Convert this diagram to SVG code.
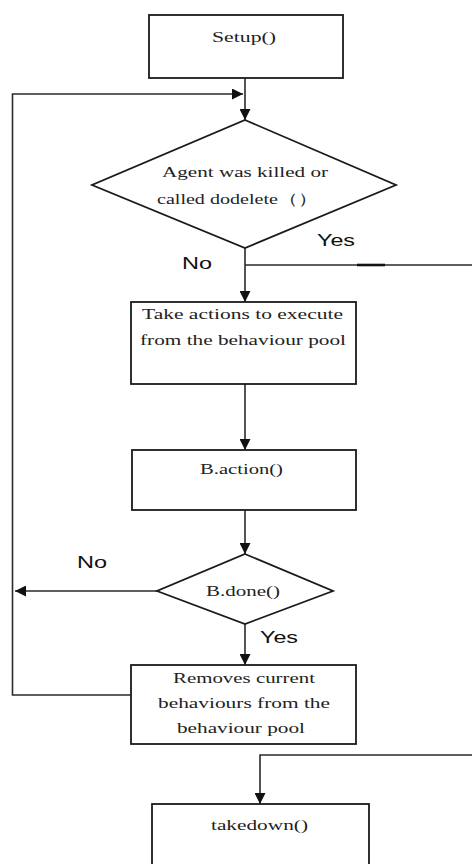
<svg xmlns="http://www.w3.org/2000/svg" width="472" height="864" viewBox="0 0 472 864">
<style>
.box{fill:#fff;stroke:#1a1a1a;stroke-width:1.8}
.ln{fill:none;stroke:#2a2a2a;stroke-width:1.6}
.t{font-family:"Liberation Serif",serif;font-size:15px;fill:#222}
.l{font-family:"Liberation Sans",sans-serif;font-size:17px;fill:#111}
</style>
<defs>
<marker id="ah2" viewBox="0 0 10 10" refX="10" refY="5" markerWidth="11" markerHeight="11" markerUnits="userSpaceOnUse" orient="auto">
<path d="M0,0 L10,5 L0,10 z" fill="#111"/>
</marker>
</defs>
<g id="connectors">
<path class="ln" d="M245,78 V120" marker-end="url(#ah2)"/>
<path class="ln" d="M131,695 H12.5 V94 H243" marker-end="url(#ah2)"/>
<path class="ln" d="M245,248 V302" marker-end="url(#ah2)"/>
<path class="ln" d="M245,265 H472"/>
<path d="M357,265 H385" stroke="#111" stroke-width="2.6"/>
<path class="ln" d="M245,384 V450" marker-end="url(#ah2)"/>
<path class="ln" d="M245,510 V554" marker-end="url(#ah2)"/>
<path class="ln" d="M157,591 H15" marker-end="url(#ah2)"/>
<path class="ln" d="M245,624 V665" marker-end="url(#ah2)"/>
<path class="ln" d="M472,755 H260 V804" marker-end="url(#ah2)"/>
</g>
<g id="setup">
<rect class="box" x="149" y="15" width="194" height="63"/>
<text class="t" x="212" y="42" textLength="64" lengthAdjust="spacingAndGlyphs">Setup()</text>
</g>
<g id="decision1">
<polygon class="box" points="245,120 396,185 245,248 92,185"/>
<text class="t" x="162" y="177" textLength="166" lengthAdjust="spacingAndGlyphs">Agent was killed or</text>
<text class="t" x="157" y="204" textLength="161" lengthAdjust="spacingAndGlyphs">called dodelete（）</text>
</g>
<text class="l" x="317" y="246" textLength="38" lengthAdjust="spacingAndGlyphs">Yes</text>
<text class="l" x="182" y="269" textLength="30" lengthAdjust="spacingAndGlyphs">No</text>
<g id="take">
<rect class="box" x="131" y="302" width="225" height="82"/>
<text class="t" x="142" y="319" textLength="201" lengthAdjust="spacingAndGlyphs">Take actions  to execute</text>
<text class="t" x="140" y="345" textLength="206" lengthAdjust="spacingAndGlyphs">from the behaviour pool</text>
</g>
<g id="baction">
<rect class="box" x="132" y="450" width="224" height="60"/>
<text class="t" x="200" y="474" textLength="83" lengthAdjust="spacingAndGlyphs">B.action()</text>
</g>
<g id="bdone">
<polygon class="box" points="245,554 333,591 245,624 157,591"/>
<text class="t" x="206" y="596" textLength="74" lengthAdjust="spacingAndGlyphs">B.done()</text>
</g>
<text class="l" x="77" y="568" textLength="30" lengthAdjust="spacingAndGlyphs">No</text>
<text class="l" x="260" y="643" textLength="38" lengthAdjust="spacingAndGlyphs">Yes</text>
<g id="removes">
<rect class="box" x="131" y="665" width="225" height="79"/>
<text class="t" x="173" y="683" textLength="142" lengthAdjust="spacingAndGlyphs">Removes current</text>
<text class="t" x="158" y="708" textLength="172" lengthAdjust="spacingAndGlyphs">behaviours from the</text>
<text class="t" x="177" y="733" textLength="128" lengthAdjust="spacingAndGlyphs">behaviour pool</text>
</g>
<g id="takedown">
<rect class="box" x="152" y="804" width="217" height="70"/>
<text class="t" x="211" y="830" textLength="97" lengthAdjust="spacingAndGlyphs">takedown()</text>
</g>
</svg>
